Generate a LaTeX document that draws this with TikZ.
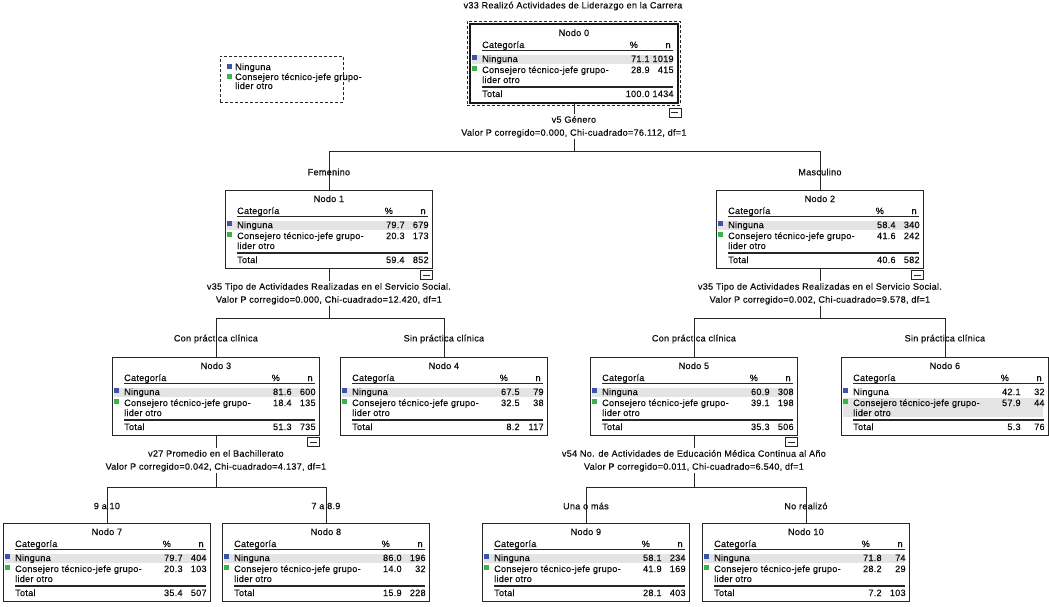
\documentclass[tikz,border=0pt]{standalone}
\usepackage{fontspec}
\setmainfont{Liberation Sans}[LetterSpace=3, FakeBold=0.5]
\usepackage{xcolor}
\usetikzlibrary{calc,positioning}

\definecolor{azulspss}{RGB}{62,84,170}
\definecolor{verdespss}{RGB}{60,178,75}
\definecolor{grisfila}{RGB}{228,228,228}

\tikzset{
  caja/.style={draw=black!85, line width=0.8pt, minimum width=207pt, minimum height=78pt, inner sep=0pt, anchor=north west},
  marco/.style={draw=black!85, line width=0.9pt, dash pattern=on 3pt off 2pt, inner sep=0pt},
  texto/.style={inner sep=0pt, text=black!95, font=\fontsize{9.1}{10}\selectfont},
  etiqueta/.style={inner sep=1.5pt, text=black!95, align=center, font=\fontsize{9.1}{13}\selectfont},
  regla/.style={line width=1.1pt, black!85},
  conector/.style={line width=0.8pt, black!85},
}

\def\colpct{28}

% tabla de un nodo: numero, esquina, fila resaltada, valores
\newcommand{\nodotabla}[9]{%
  \node[caja] (n#1) at #2 {};
  \ifnum#3=1
    \fill[grisfila] ($(n#1.north west)+(2,31)$) rectangle ($(n#1.north east)+(-6,39.5)$);
  \else
    \fill[grisfila] ($(n#1.north west)+(2,41)$) rectangle ($(n#1.north east)+(-6,60)$);
  \fi
  \node[texto, anchor=base] (n#1-tit) at ($(n#1.north)+(0,12)$) {Nodo #1};
  \node[texto, anchor=base west] (n#1-cat) at ($(n#1.north west)+(12,24)$) {Categoría};
  \node[texto, anchor=base] (n#1-pc) at ($(n#1.north east)+(-44,24)$) {\%};
  \node[texto, anchor=base east] (n#1-n) at ($(n#1.north east)+(-7,24)$) {n};
  \draw[regla] ($(n#1.north west)+(12,26.5)$) -- ($(n#1.north east)+(-5,26.5)$);
  \fill[azulspss] ($(n#1.north west)+(2,31)$) rectangle +(5,5);
  \node[texto, anchor=base west] (n#1-a) at ($(n#1.north west)+(12,38)$) {Ninguna};
  \node[texto, anchor=base east] (n#1-ap) at ($(n#1.north east)+(-\colpct,38)$) {#4};
  \node[texto, anchor=base east] (n#1-an) at ($(n#1.north east)+(-4,38)$) {#5};
  \fill[verdespss] ($(n#1.north west)+(2,42)$) rectangle +(5,5);
  \node[texto, anchor=base west] (n#1-b) at ($(n#1.north west)+(12,49)$) {Consejero técnico-jefe grupo-};
  \node[texto, anchor=base east] (n#1-bp) at ($(n#1.north east)+(-\colpct,49)$) {#6};
  \node[texto, anchor=base east] (n#1-bn) at ($(n#1.north east)+(-4,49)$) {#7};
  \node[texto, anchor=base west] (n#1-b2) at ($(n#1.north west)+(12,59)$) {lider otro};
  \draw[regla] ($(n#1.north west)+(12,63)$) -- ($(n#1.north east)+(-5,63)$);
  \node[texto, anchor=base west] (n#1-t) at ($(n#1.north west)+(12,73)$) {Total};
  \node[texto, anchor=base east] (n#1-tp) at ($(n#1.north east)+(-\colpct,73)$) {#8};
  \node[texto, anchor=base east] (n#1-tn) at ($(n#1.north east)+(-4,73)$) {#9};
}

% cuadro con signo menos bajo un nodo
\newcommand{\menos}[1]{%
  \draw[black!85, line width=0.7pt, fill=white] ($(#1.south east)+(-12,2)$) rectangle ($(#1.south east)+(0,11)$);
  \draw[black!85, line width=0.9pt] ($(#1.south east)+(-9.5,6.5)$) -- ($(#1.south east)+(-2.5,6.5)$);
}

\begin{document}
\begin{tikzpicture}[x=1pt, y=-1pt]
    \useasboundingbox (0,0) rectangle (1049,606);

    \node[texto] (titulo) at (573,6) {v33 Realizó Actividades de Liderazgo en la Carrera};

    % leyenda
    \node[marco, minimum width=123pt, minimum height=46pt, anchor=north west] (leyenda) at (220,56) {};
    \fill[azulspss] ($(leyenda.north west)+(7,8)$) rectangle +(5,5);
    \node[texto, anchor=base west] (ley-a) at ($(leyenda.north west)+(15,14)$) {Ninguna};
    \fill[verdespss] ($(leyenda.north west)+(7,18)$) rectangle +(5,5);
    \node[texto, anchor=base west] (ley-b) at ($(leyenda.north west)+(15,24)$) {Consejero técnico-jefe grupo-};
    \node[texto, anchor=base west] (ley-b2) at ($(leyenda.north west)+(15,33)$) {lider otro};

    % nodos
    \nodotabla{0}{(470,24)}{1}{71.1}{1019}{28.9}{415}{100.0}{1434}
    \draw[line width=1.6pt, black!90] (n0.north west) rectangle (n0.south east);
    \node[marco, minimum width=213pt, minimum height=84pt] (n0m) at (n0.center) {};

    \nodotabla{1}{(225,190)}{1}{79.7}{679}{20.3}{173}{59.4}{852}
    \nodotabla{2}{(716,190)}{1}{58.4}{340}{41.6}{242}{40.6}{582}
    \nodotabla{3}{(112,357)}{1}{81.6}{600}{18.4}{135}{51.3}{735}
    \nodotabla{4}{(340,357)}{1}{67.5}{79}{32.5}{38}{8.2}{117}
    \nodotabla{5}{(590,357)}{1}{60.9}{308}{39.1}{198}{35.3}{506}
    \nodotabla{6}{(841,357)}{2}{42.1}{32}{57.9}{44}{5.3}{76}
    \nodotabla{7}{(3,523)}{1}{79.7}{404}{20.3}{103}{35.4}{507}
    \nodotabla{8}{(222,523)}{1}{86.0}{196}{14.0}{32}{15.9}{228}
    \nodotabla{9}{(482,523)}{1}{58.1}{234}{41.9}{169}{28.1}{403}
    \nodotabla{10}{(702,523)}{1}{71.8}{74}{28.2}{29}{7.2}{103}

    \menos{n0m}
    \menos{n1}
    \menos{n2}
    \menos{n3}
    \menos{n5}

    % divisiones
    \node[etiqueta] (s0) at ($(n0.south)+(0,24)$) {v5 Género\\Valor P corregido=0.000, Chi-cuadrado=76.112, df=1};
    \node[etiqueta] (s1) at ($(n1.south)+(0,25)$) {v35 Tipo de Actividades Realizadas en el Servicio Social.\\Valor P corregido=0.000, Chi-cuadrado=12.420, df=1};
    \node[etiqueta] (s2) at ($(n2.south)+(0,25)$) {v35 Tipo de Actividades Realizadas en el Servicio Social.\\Valor P corregido=0.002, Chi-cuadrado=9.578, df=1};
    \node[etiqueta] (s3) at ($(n3.south)+(0,25)$) {v27 Promedio en el Bachillerato\\Valor P corregido=0.042, Chi-cuadrado=4.137, df=1};
    \node[etiqueta] (s5) at ($(n5.south)+(0,25)$) {v54 No. de Actividades de Educación Médica Continua al Año\\Valor P corregido=0.011, Chi-cuadrado=6.540, df=1};

    \coordinate (h0) at ($(n0.south)+(0,49)$);
    \coordinate (h1) at ($(n1.south)+(0,50)$);
    \coordinate (h2) at ($(n2.south)+(0,50)$);
    \coordinate (h3) at ($(n3.south)+(0,52)$);
    \coordinate (h5) at ($(n5.south)+(0,52)$);

    \foreach \p in {0,1,2,3,5} {
        \draw[conector] (n\p.south) -- (s\p.north);
        \draw[conector] (s\p.south) -- (h\p);
    }
    \draw[conector] (n1.north) |- (h0) -| (n2.north);
    \draw[conector] (n3.north) |- (h1) -| (n4.north);
    \draw[conector] (n5.north) |- (h2) -| (n6.north);
    \draw[conector] (n7.north) |- (h3) -| (n8.north);
    \draw[conector] (n9.north) |- (h5) -| (n10.north);

    % ramas
    \node[texto] (e1) at ($(n1.north)+(0,-18)$) {Femenino};
    \node[texto] (e2) at ($(n2.north)+(0,-18)$) {Masculino};
    \node[texto] (e3) at ($(n3.north)+(0,-18)$) {Con práctica clínica};
    \node[texto] (e4) at ($(n4.north)+(0,-18)$) {Sin práctica clínica};
    \node[texto] (e5) at ($(n5.north)+(0,-18)$) {Con práctica clínica};
    \node[texto] (e6) at ($(n6.north)+(0,-18)$) {Sin práctica clínica};
    \node[texto] (e7) at ($(n7.north)+(0,-17)$) {9 a 10};
    \node[texto] (e8) at ($(n8.north)+(0,-17)$) {7 a 8.9};
    \node[texto] (e9) at ($(n9.north)+(0,-17)$) {Una o más};
    \node[texto] (e10) at ($(n10.north)+(0,-17)$) {No realizó};
\end{tikzpicture}
\end{document}
